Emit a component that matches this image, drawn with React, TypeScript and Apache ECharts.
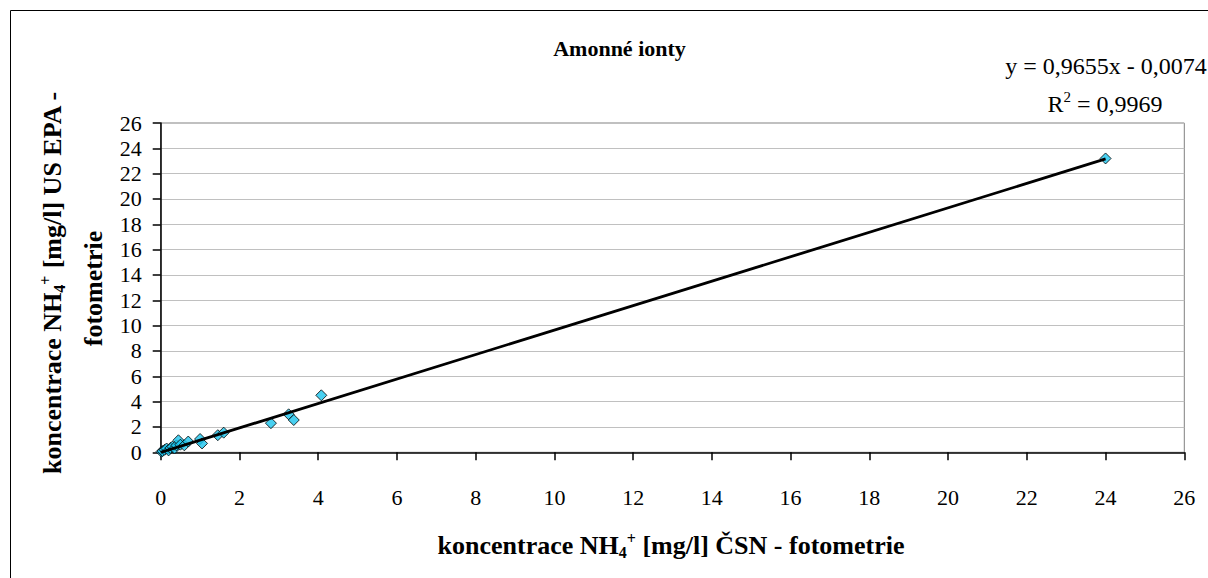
import React, { useEffect, useRef } from "react";
import * as echarts from "echarts";

const csnValues = [0.02, 0.05, 0.1, 0.15, 0.2, 0.25, 0.3, 0.35, 0.4, 0.45, 0.5, 0.6, 0.7, 1.0, 1.05, 1.45, 1.6, 2.8, 3.25, 3.38, 4.08, 24.0];
const epaValues = [0.05, 0.1, 0.2, 0.3, 0.15, 0.35, 0.45, 0.3, 0.55, 0.95, 0.6, 0.55, 0.85, 1.05, 0.7, 1.35, 1.55, 2.3, 3.0, 2.55, 4.5, 23.2];
const slope = 0.9655;
const intercept = -0.0074;
const trendRange = [0, 24];
const axisMin = 0;
const axisMax = 26;
const axisStep = 2;

const titleText = "Amonné ionty";
const equationText = "y = 0,9655x - 0,0074";
const r2Value = "0,9969";

const FONT = "'Times New Roman', 'Liberation Serif', 'DejaVu Serif', serif";

export default function App() {
  const ref = useRef<HTMLDivElement>(null);

  useEffect(() => {
    if (!ref.current) return;
    const chart = echarts.init(ref.current, null, { renderer: "svg" });
    const points = csnValues.map((x, i) => [x, epaValues[i]]);
    const trend = trendRange.map((x) => [x, slope * x + intercept]);

    const boldRich = {
      b: { fontFamily: FONT, fontSize: 26, fontWeight: "bold", color: "#000", lineHeight: 30, verticalAlign: "middle" },
      sub: { fontFamily: FONT, fontSize: 16, fontWeight: "bold", color: "#000", lineHeight: 16, verticalAlign: "bottom" },
      sup: { fontFamily: FONT, fontSize: 16, fontWeight: "bold", color: "#000", lineHeight: 16, verticalAlign: "top" },
    };

    chart.setOption({
      animation: false,
      backgroundColor: "#fff",
      textStyle: { fontFamily: FONT },
      grid: {
        left: 160.7,
        top: 123,
        right: 23.7,
        bottom: 125.7,
        show: true,
        borderColor: "#808080",
        borderWidth: 1,
        backgroundColor: "transparent",
      },
      xAxis: {
        type: "value",
        min: axisMin,
        max: axisMax,
        interval: axisStep,
        axisLine: { show: true, onZero: false, lineStyle: { color: "#000", width: 1.5 } },
        axisTick: { show: true, length: 8, inside: false, lineStyle: { color: "#000", width: 1.5 } },
        axisLabel: { fontFamily: FONT, fontSize: 22, color: "#000", margin: 34 },
        splitLine: { show: false },
      },
      yAxis: {
        type: "value",
        min: axisMin,
        max: axisMax,
        interval: axisStep,
        axisLine: { show: true, onZero: false, lineStyle: { color: "#000", width: 1.5 } },
        axisTick: { show: true, length: 8, inside: false, lineStyle: { color: "#000", width: 1.5 } },
        axisLabel: { fontFamily: FONT, fontSize: 22, color: "#000", margin: 19 },
        splitLine: { show: true, lineStyle: { color: "#C0C0C0", width: 1 } },
      },
      series: [
        {
          type: "scatter",
          data: points,
          symbol: "diamond",
          symbolSize: 11,
          itemStyle: { color: "#1CC4EE", borderColor: "#000", borderWidth: 1 },
          z: 2,
        },
        {
          type: "line",
          data: trend,
          showSymbol: false,
          symbol: "none",
          lineStyle: { color: "#000", width: 2.8 },
          z: 3,
        },
      ],
      graphic: [
        {
          type: "polyline",
          shape: { points: [[10.5, 2000], [10.5, 10.5], [2000, 10.5]] },
          style: { fill: "none", stroke: "#000", lineWidth: 1 },
          silent: true,
          z: 0,
        },
        {
          type: "text",
          x: 619.5,
          y: 48,
          style: {
            text: titleText,
            fontFamily: FONT,
            fontSize: 22,
            fontWeight: "bold",
            fill: "#000",
            align: "center",
            verticalAlign: "middle",
          },
        },
        {
          type: "text",
          x: 1106,
          y: 66,
          style: {
            text: equationText,
            fontFamily: FONT,
            fontSize: 24,
            fill: "#000",
            align: "center",
            verticalAlign: "middle",
          },
        },
        {
          type: "text",
          x: 1105,
          y: 104,
          style: {
            text: "{n|R}{s|2}{n| = " + r2Value + "}",
            align: "center",
            verticalAlign: "middle",
            rich: {
              n: { fontFamily: FONT, fontSize: 24, color: "#000", lineHeight: 30, verticalAlign: "middle" },
              s: { fontFamily: FONT, fontSize: 15, color: "#000", lineHeight: 15, verticalAlign: "top" },
            },
          },
        },
        {
          type: "text",
          x: 52.5,
          y: 282.5,
          rotation: Math.PI / 2,
          style: {
            text: "{b|koncentrace NH}{sub|4}{sup|+}{b| [mg/l] US EPA -}",
            align: "center",
            verticalAlign: "middle",
            rich: boldRich,
          },
        },
        {
          type: "text",
          x: 93,
          y: 288.5,
          rotation: Math.PI / 2,
          style: {
            text: "{b|fotometrie}",
            align: "center",
            verticalAlign: "middle",
            rich: boldRich,
          },
        },
        {
          type: "text",
          x: 671,
          y: 545,
          style: {
            text: "{b|koncentrace NH}{sub|4}{sup|+}{b| [mg/l] ČSN - fotometrie}",
            align: "center",
            verticalAlign: "middle",
            rich: boldRich,
          },
        },
      ],
    });
    return () => chart.dispose();
  }, []);

  return (
    <div
      ref={ref}
      style={{ position: "absolute", left: 0, top: 0, width: 1208, height: 578 }}
    />
  );
}
